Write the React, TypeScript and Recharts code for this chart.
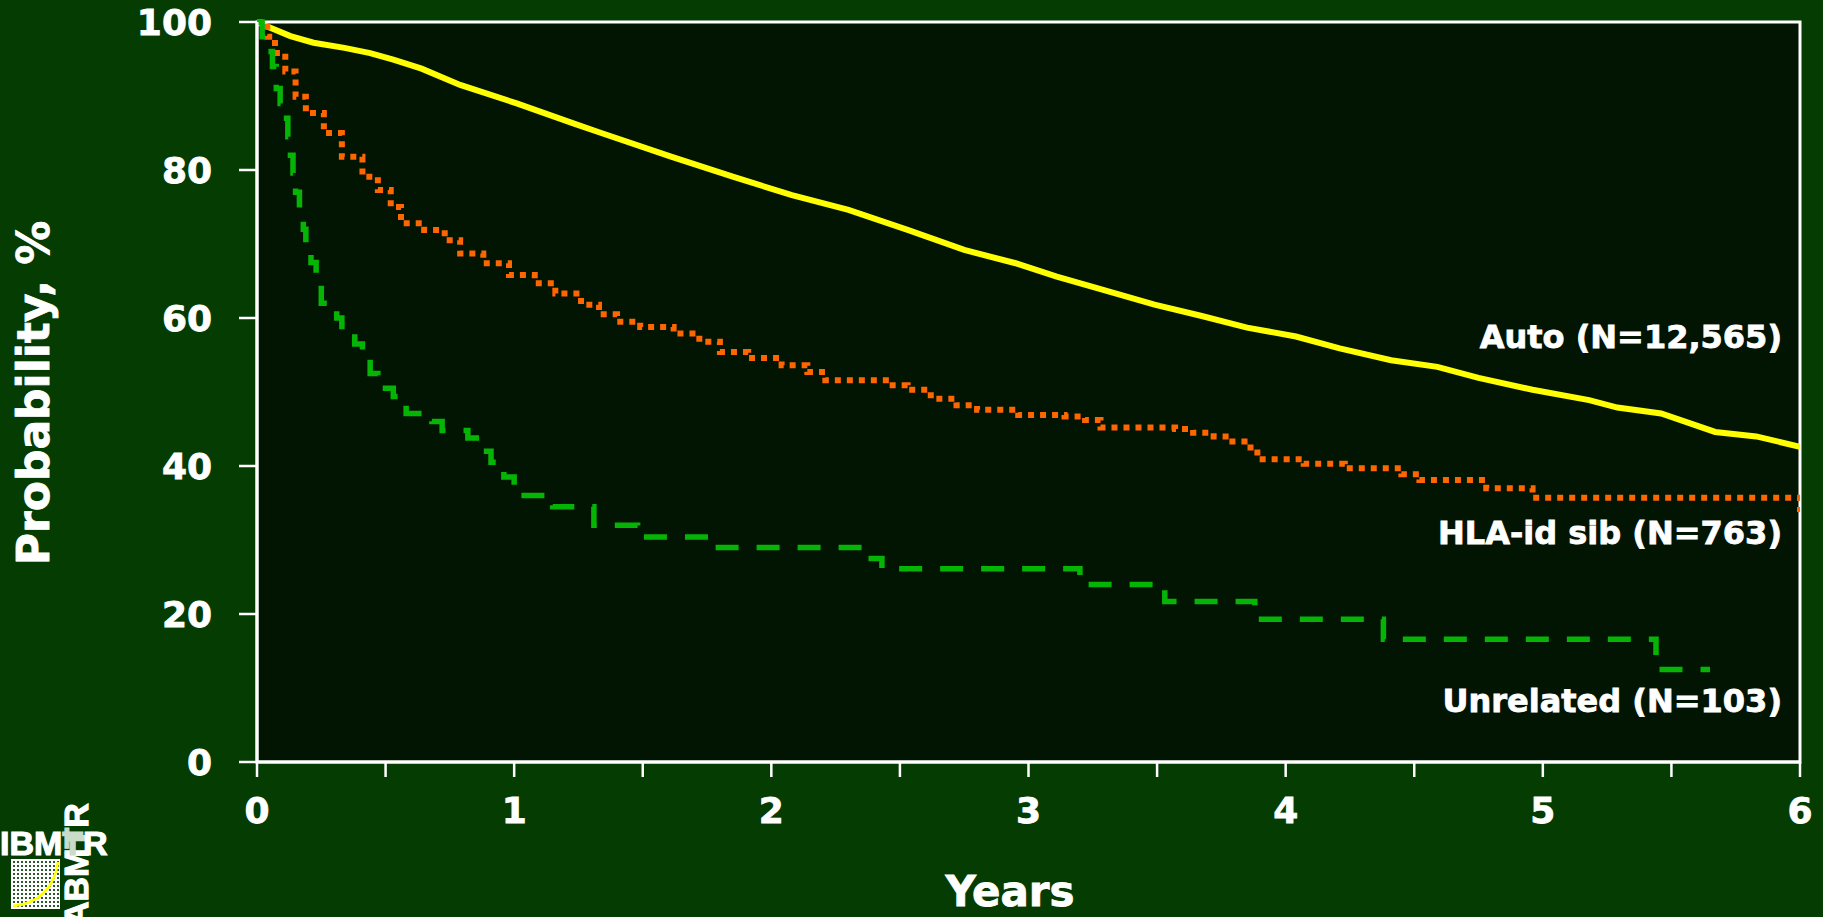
import React from "react";
import {
  LineChart,
  Line,
  XAxis,
  YAxis,
  ReferenceArea,
  Customized,
} from "recharts";

const FONT = "'DejaVu Sans', Verdana, sans-serif";
const PAGE_BG = "#043c02";
const PLOT_BG = "#021502";

// time axis, years
const xTicks = [0, 0.5, 1, 1.5, 2, 2.5, 3, 3.5, 4, 4.5, 5, 5.5, 6];
const yTicks = [0, 20, 40, 60, 80, 100];

// Auto transplant survival
const autoYears = [
  0, 0.04, 0.13, 0.22, 0.34, 0.44, 0.53, 0.64, 0.79, 1.01, 1.23, 1.33, 1.61,
  1.85, 2.08, 2.3, 2.53, 2.75, 2.95, 3.11, 3.27, 3.49, 3.67, 3.85, 4.04, 4.21,
  4.41, 4.59, 4.75, 4.96, 5.18, 5.29, 5.46, 5.67, 5.83, 6.0,
];
const autoPct = [
  100, 99.4, 98.1, 97.2, 96.5, 95.8, 94.9, 93.7, 91.5, 89.0, 86.3, 85.1, 81.8,
  79.1, 76.6, 74.6, 71.9, 69.2, 67.4, 65.6, 64.0, 61.8, 60.3, 58.7, 57.5, 55.9,
  54.3, 53.4, 51.9, 50.3, 48.9, 47.9, 47.1, 44.6, 44.0, 42.6,
];

// HLA-identical sibling survival
const sibYears = [
  0, 0.04, 0.07, 0.11, 0.15, 0.19, 0.26, 0.33, 0.41, 0.47, 0.52, 0.56, 0.65,
  0.73, 0.79, 0.88, 0.98, 1.08, 1.16, 1.26, 1.33, 1.4, 1.49, 1.62, 1.72, 1.8,
  1.91, 2.04, 2.14, 2.21, 2.46, 2.53, 2.62, 2.72, 2.8, 2.96, 3.14, 3.22, 3.28,
  3.57, 3.64, 3.72, 3.78, 3.84, 3.89, 4.07, 4.23, 4.45, 4.52, 4.78, 4.96, 6.0,
];
const sibPct = [
  100, 98, 95.8, 93.3, 89.9, 87.7, 85.0, 81.8, 79.1, 77.3, 75.0, 72.8, 71.9,
  70.5, 68.7, 67.4, 65.8, 64.7, 63.3, 61.8, 60.5, 59.5, 58.8, 57.9, 56.8, 55.4,
  54.6, 53.6, 52.7, 51.6, 50.9, 50.3, 49.1, 48.2, 47.6, 46.9, 46.7, 46.2, 45.2,
  45.0, 44.5, 44.0, 43.3, 42.5, 40.9, 40.3, 39.7, 38.9, 38.1, 37.0, 35.7, 33.8,
];

// Unrelated donor survival
const unrelYears = [
  0, 0.02, 0.04, 0.06, 0.075, 0.09, 0.1, 0.12, 0.13, 0.14, 0.15, 0.165, 0.18,
  0.19, 0.21, 0.23, 0.25, 0.31, 0.33, 0.38, 0.41, 0.44, 0.47, 0.53, 0.58, 0.68,
  0.72, 0.82, 0.87, 0.91, 0.96, 1.0, 1.02, 1.15, 1.31, 1.48, 1.76, 2.36, 2.43,
  3.2, 3.53, 3.88, 4.38, 5.44, 5.65,
];
const unrelPct = [
  100, 98, 96, 94, 91, 89, 87, 84.5, 82, 79.6, 77, 74.4, 72, 69.9, 67.5, 65, 62,
  60, 58.2, 56.5, 54.8, 52.5, 50.5, 49.4, 47.1, 46, 44.8, 43.8, 42, 40.5, 38.5,
  37, 36, 34.5, 32, 30.4, 29, 27.5, 26.1, 24, 21.7, 19.3, 16.6, 12.5, 12.5,
];

const toRows = (years: number[], pct: number[]) =>
  years.map((t, i) => ({ t, p: pct[i] }));

const autoRows = toRows(autoYears, autoPct);
const sibRows = toRows(sibYears, sibPct);
const unrelRows = toRows(unrelYears, unrelPct);

// bold face thickened a little with a thin stroke of the same colour
const heavy = { stroke: "#ffffff", strokeWidth: 0.8 };

const tickStyle = {
  fill: "#ffffff",
  fontSize: 36,
  fontWeight: 700,
  fontFamily: FONT,
  ...heavy,
};

const AxisTitles = () => (
  <g fontFamily={FONT} fontWeight={700} fill="#ffffff" textAnchor="middle" {...heavy}>
    <text x={1010} y={906} fontSize={42}>Years</text>
    <text x={49} y={393} fontSize={44} transform="rotate(-90 49 393)">
      Probability, %
    </text>
  </g>
);

// group names written at the right end of each curve
const SeriesNotes = () => (
  <svg
    width={1823}
    height={917}
    style={{ position: "absolute", left: 0, top: 0, pointerEvents: "none" }}
  >
    <g fontFamily={FONT} fontWeight={700} fontSize={32} fill="#ffffff" textAnchor="end" {...heavy}>
      <text x={1782} y={348}>Auto (N=12,565)</text>
      <text x={1782} y={544}>HLA-id sib (N=763)</text>
      <text x={1782} y={712}>Unrelated (N=103)</text>
    </g>
  </svg>
);

const Logo = () => (
  <svg
    width={130}
    height={117}
    style={{ position: "absolute", left: 0, top: 800 }}
  >
    <defs>
      <pattern id="dots" width={4} height={4} patternUnits="userSpaceOnUse">
        <rect width={4} height={4} fill="#ffffff" />
        <rect x={1} y={1} width={2} height={2} fill="#2d5a2d" />
      </pattern>
    </defs>
    <rect x={11} y={59} width={49} height={50} fill="url(#dots)" />
    <path d="M13 106 Q52 102 58 62" stroke="#ffff00" strokeWidth={2.5} fill="none" />
    <g
      fontFamily="'Liberation Sans', Arial, sans-serif"
      fontWeight={700}
      fontSize={34}
      stroke="#ffffff"
      strokeWidth={1.2}
    >
      <text x={88} y={126} fill="#ffffff" transform="rotate(-90 88 126)">
        ABM<tspan fill="#c8dcc8" stroke="#c8dcc8">T</tspan>R
      </text>
      <text x={0} y={55} fill="#ffffff">
        IBM<tspan fill="#c8dcc8" stroke="#c8dcc8">T</tspan>R
      </text>
    </g>
  </svg>
);

export default function App() {
  return (
    <div
      style={{
        position: "absolute",
        left: 0,
        top: 0,
        width: 1823,
        height: 917,
        background: PAGE_BG,
        overflow: "hidden",
      }}
    >
      <LineChart
        width={1823}
        height={917}
        margin={{ top: 22, right: 23, bottom: 0, left: 0 }}
      >
        <XAxis
          type="number"
          dataKey="t"
          domain={[0, 6]}
          ticks={xTicks}
          interval={0}
          tickFormatter={(v: number) => (Number.isInteger(v) ? String(v) : "")}
          height={155}
          tickSize={15}
          tickMargin={20}
          tick={tickStyle}
          axisLine={{ stroke: "#ffffff", strokeWidth: 3 }}
          tickLine={{ stroke: "#ffffff", strokeWidth: 2.5 }}
          allowDataOverflow
        />
        <YAxis
          type="number"
          domain={[0, 100]}
          ticks={yTicks}
          interval={0}
          width={257}
          tickSize={18}
          tickMargin={27}
          tick={tickStyle}
          axisLine={{ stroke: "#ffffff", strokeWidth: 3 }}
          tickLine={{ stroke: "#ffffff", strokeWidth: 2.5 }}
        />
        <ReferenceArea
          x1={0}
          x2={6}
          y1={0}
          y2={100}
          fill={PLOT_BG}
          fillOpacity={1}
          stroke="#ffffff"
          strokeWidth={3}
        />
        <Line
          data={autoRows}
          dataKey="p"
          type="linear"
          stroke="#ffff00"
          strokeWidth={6}
          dot={false}
          activeDot={false}
          isAnimationActive={false}
        />
        <Line
          data={sibRows}
          dataKey="p"
          type="stepAfter"
          stroke="#ff6600"
          strokeWidth={6}
          strokeDasharray="6 6"
          dot={false}
          activeDot={false}
          isAnimationActive={false}
        />
        <Line
          data={unrelRows}
          dataKey="p"
          type="stepAfter"
          stroke="#06b406"
          strokeWidth={5.5}
          strokeDasharray="23 18"
          dot={false}
          activeDot={false}
          isAnimationActive={false}
        />
        <Customized component={AxisTitles} />
      </LineChart>
      <SeriesNotes />
      <Logo />
    </div>
  );
}
